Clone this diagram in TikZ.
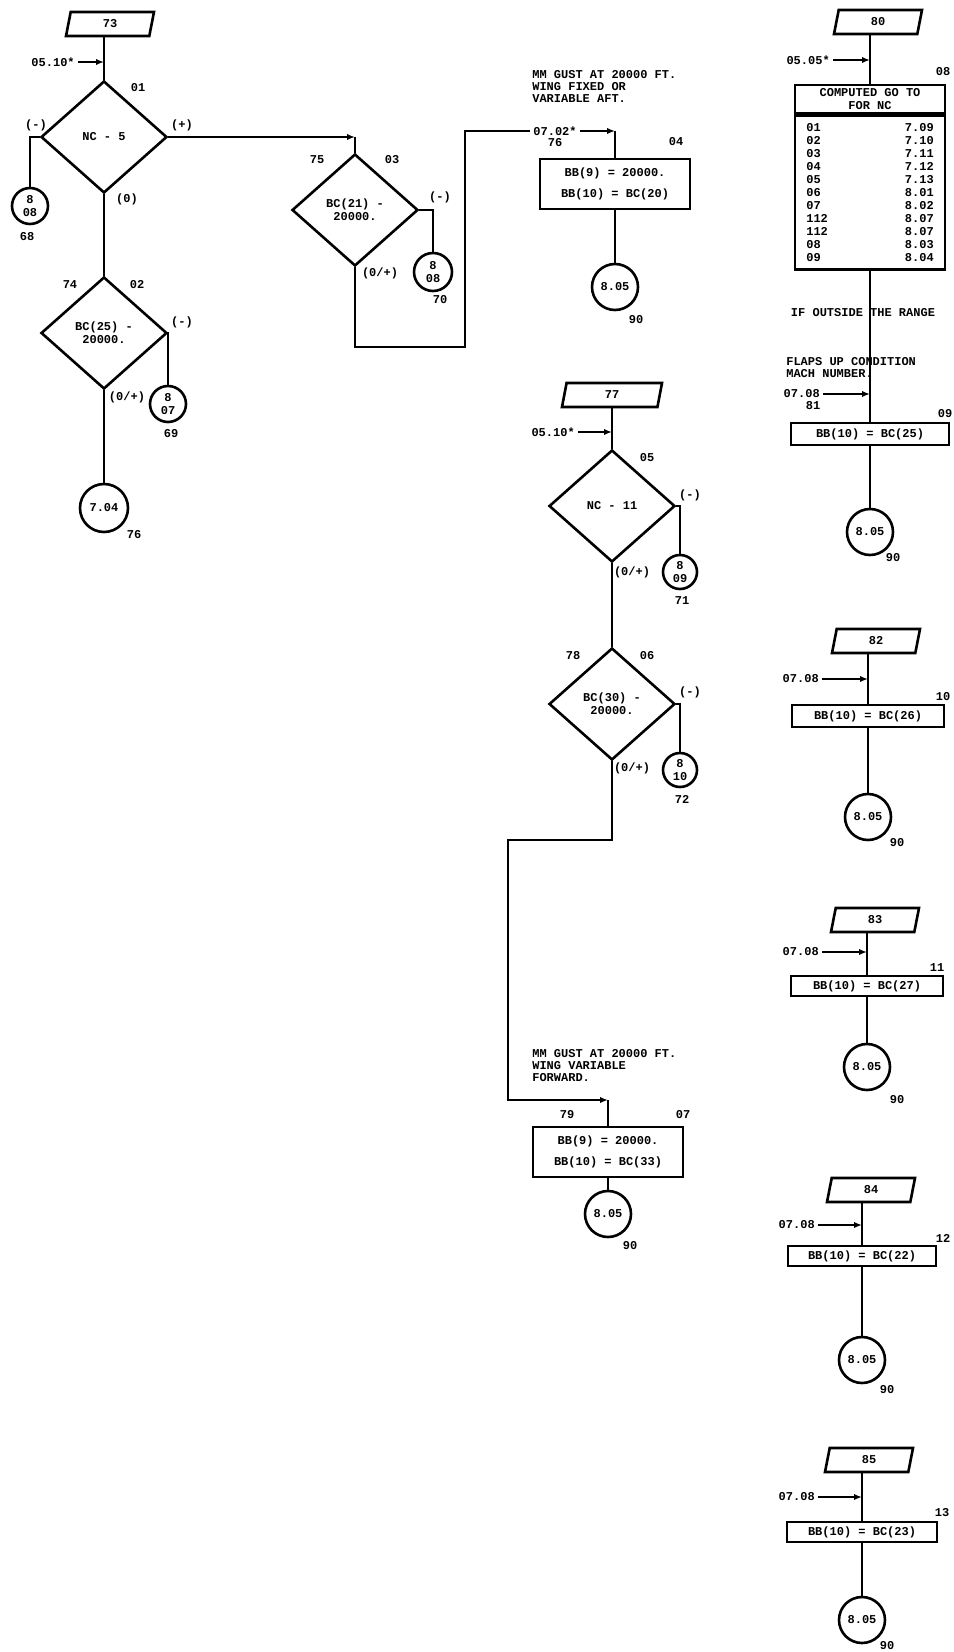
\documentclass[tikz,border=0pt]{standalone}
\usepackage{fontspec}
\setmonofont{Liberation Mono}
\usetikzlibrary{shapes.geometric,arrows.meta}

\begin{document}
\begin{tikzpicture}[x=0.5pt, y=-0.5pt, line width=1.3pt,
  font=\ttfamily\bfseries\fontsize{6}{6.5}\selectfont,
  >={Latex[length=4pt,width=3.2pt]},
  io/.style={draw, trapezium, trapezium left angle=60, trapezium right angle=120,
    trapezium stretches body, minimum width=44pt, minimum height=12pt, inner sep=0pt},
  decide/.style={draw, diamond, minimum width=63pt, minimum height=56pt, inner sep=0pt, align=center},
  conn/.style={draw, circle, minimum size=18pt, inner sep=0pt, align=center},
  proc/.style={draw, rectangle, minimum width=75pt, minimum height=11pt, inner sep=0pt, align=center},
  entry/.style={anchor=east, inner sep=1pt},
  note/.style={anchor=north west, align=left, inner sep=0pt, font=\ttfamily\bfseries\fontsize{6}{6}\selectfont}]
  \useasboundingbox (0,0) rectangle (953,1652);

  % left column: NC - 5
  \node[io] (p73) at (110,24) {73};
  \node[entry] (e73) at (78,62) {05.10*};
  \coordinate (j73) at (104,62);
  \node[decide] (d01) at (104,137) {NC - 5};
  \node[conn] (c68) at (30,206) {8\\08};
  \node[decide] (d02) at (104,333) {BC(25) -\\20000.};
  \node[conn] (c69) at (168,404) {8\\07};
  \node[conn, minimum size=24pt] (c76) at (104,508) {7.04};

  \draw (p73.south -| d01.north) -- (d01.north);
  \draw[->] (e73.east) -- (j73);
  \draw (d01.west) -| (c68.north);
  \draw (d01.south) -- (d02.north);
  \draw (d02.east) -| (c69.north);
  \draw (d02.south) -- (c76.north);

  \node (t01) at (138,88) {01};
  \node (m01) at (36,125) {(-)};
  \node (q01) at (182,125) {(+)};
  \node (z01) at (127,199) {(0)};
  \node (u68) at (27,237) {68};
  \node (t74) at (70,285) {74};
  \node (t02) at (137,285) {02};
  \node (m02) at (182,322) {(-)};
  \node (z02) at (127,397) {(0/+)};
  \node (u69) at (171,434) {69};
  \node (u76) at (134,535) {76};

  % BC(21) branch
  \node[decide] (d03) at (355,210) {BC(21) -\\20000.};
  \coordinate (k03) at (d03.north |- d01.east);
  \draw[->] (d01.east) -- (k03);
  \draw (k03) -- (d03.north);
  \node[conn, minimum size=19pt] (c70) at (433,272) {8\\08};
  \draw (d03.east) -| (c70.north);
  \node (t75) at (317,160) {75};
  \node (t03) at (392,160) {03};
  \node (m03) at (440,197) {(-)};
  \node (z03) at (380,273) {(0/+)};
  \node (u70) at (440,300) {70};

  \coordinate (u03) at (465,347);
  \node[inner sep=1pt] (e76) at (555,131) {07.02*};
  \draw (d03.south) |- (u03) |- (e76.west);
  \node[note] (g04) at (531,69) {MM GUST AT 20000 FT.\\WING FIXED OR\\VARIABLE AFT.};
  \node (t76) at (555,143) {76};
  \node (t04) at (676,142) {04};
  \node[proc, minimum height=25pt] (b04) at (615,184) {BB(9) = 20000.\\[4pt]BB(10) = BC(20)};
  \coordinate (k04) at (b04.north |- e76.east);
  \draw[->] (e76.east) -- (k04);
  \draw (k04) -- (b04.north);
  \node[conn, minimum size=23pt] (c04) at (615,287) {8.05};
  \draw (b04.south) -- (c04.north);
  \node (u04) at (636,320) {90};

  % middle column: NC - 11
  \node[io, minimum width=50pt] (p77) at (612,395) {77};
  \node[entry] (e77) at (578,432) {05.10*};
  \coordinate (j77) at (612,432);
  \node[decide] (d05) at (612,506) {NC - 11};
  \node[conn, minimum size=17pt] (c71) at (680,572) {8\\09};
  \node[decide] (d06) at (612,704) {BC(30) -\\20000.};
  \node[conn, minimum size=17pt] (c72) at (680,770) {8\\10};

  \draw (p77.south -| d05.north) -- (d05.north);
  \draw[->] (e77.east) -- (j77);
  \draw (d05.east) -| (c71.north);
  \draw (d05.south) -- (d06.north);
  \draw (d06.east) -| (c72.north);

  \node (t05) at (647,458) {05};
  \node (m05) at (690,495) {(-)};
  \node (z05) at (632,572) {(0/+)};
  \node (u71) at (682,601) {71};
  \node (t78) at (573,656) {78};
  \node (t06) at (647,656) {06};
  \node (m06) at (690,692) {(-)};
  \node (z06) at (632,768) {(0/+)};
  \node (u72) at (682,799) {72};

  \coordinate (u06) at (508,840);
  \coordinate (u07) at (508,1100);
  \node[proc, minimum height=25pt] (b07) at (608,1152) {BB(9) = 20000.\\[4pt]BB(10) = BC(33)};
  \coordinate (k07) at (b07.north |- u07);
  \draw[->] (d06.south) |- (u06) |- (k07);
  \draw (k07) -- (b07.north);
  \node[note] (g07) at (531,1048) {MM GUST AT 20000 FT.\\WING VARIABLE\\FORWARD.};
  \node (t79) at (567,1115) {79};
  \node (t07) at (683,1115) {07};
  \node[conn, minimum size=23pt] (c07) at (608,1214) {8.05};
  \draw (b07.south) -- (c07.north);
  \node (u07b) at (630,1246) {90};

  % right column: computed go to
  \node[io] (p80) at (878,22) {80};
  \node[entry] (e80) at (833,60) {05.05*};
  \coordinate (j80) at (870,60);
  \node[proc, minimum height=14pt] (h08) at (870,99) {COMPUTED GO TO\\FOR NC};
  \node[proc, minimum height=77pt, anchor=north] (b08) at (h08.south) {};
  \node[anchor=north west, align=left, inner sep=0pt] (tl08) at (805,122)
    {01\\02\\03\\04\\05\\06\\07\\112\\112\\08\\09};
  \node[anchor=north east, align=right, inner sep=0pt] (tr08) at (935,122)
    {7.09\\7.10\\7.11\\7.12\\7.13\\8.01\\8.02\\8.07\\8.07\\8.03\\8.04};
  \node (t08) at (943,72) {08};
  \draw (p80.south -| h08.north) -- (h08.north);
  \draw[->] (e80.east) -- (j80);

  \node[anchor=west] (r08) at (783,313) {IF OUTSIDE THE RANGE};
  \node[note] (f09) at (785,356) {FLAPS UP CONDITION\\MACH NUMBER.};
  \node[entry] (e81) at (823,394) {07.08};
  \coordinate (j81) at (870,394);
  \node (t81) at (813,406) {81};
  \node (t09) at (945,414) {09};
  \node[proc, minimum width=79pt] (b09) at (870,434) {BB(10) = BC(25)};
  \node[conn, minimum size=23pt] (c09) at (870,532) {8.05};
  \node (u09) at (893,558) {90};
  \draw (b08.south) -- (b09.north);
  \draw[->] (e81.east) -- (j81);
  \draw (b09.south) -- (c09.north);

  % right column: 82
  \node[io] (p82) at (876,641) {82};
  \node[entry] (e82) at (822,679) {07.08};
  \coordinate (j82) at (868,679);
  \node (t10) at (943,697) {10};
  \node[proc, minimum width=76pt] (b10) at (868,716) {BB(10) = BC(26)};
  \node[conn, minimum size=23pt] (c10) at (868,817) {8.05};
  \node (u10) at (897,843) {90};
  \draw (p82.south -| b10.north) -- (b10.north);
  \draw[->] (e82.east) -- (j82);
  \draw (b10.south) -- (c10.north);

  % right column: 83
  \node[io] (p83) at (875,920) {83};
  \node[entry] (e83) at (822,952) {07.08};
  \coordinate (j83) at (867,952);
  \node (t11) at (937,968) {11};
  \node[proc, minimum width=76pt, minimum height=10pt] (b11) at (867,986) {BB(10) = BC(27)};
  \node[conn, minimum size=23pt] (c11) at (867,1067) {8.05};
  \node (u11) at (897,1100) {90};
  \draw (p83.south -| b11.north) -- (b11.north);
  \draw[->] (e83.east) -- (j83);
  \draw (b11.south) -- (c11.north);

  % right column: 84
  \node[io] (p84) at (871,1190) {84};
  \node[entry] (e84) at (818,1225) {07.08};
  \coordinate (j84) at (862,1225);
  \node (t12) at (943,1238) {12};
  \node[proc, minimum width=74pt, minimum height=10pt] (b12) at (862,1256) {BB(10) = BC(22)};
  \node[conn, minimum size=23pt] (c12) at (862,1360) {8.05};
  \node (u12) at (887,1390) {90};
  \draw (p84.south -| b12.north) -- (b12.north);
  \draw[->] (e84.east) -- (j84);
  \draw (b12.south) -- (c12.north);

  % right column: 85
  \node[io] (p85) at (869,1460) {85};
  \node[entry] (e85) at (818,1497) {07.08};
  \coordinate (j85) at (862,1497);
  \node (t13) at (942,1513) {13};
  \node[proc, minimum width=75pt, minimum height=10pt] (b13) at (862,1532) {BB(10) = BC(23)};
  \node[conn, minimum size=23pt] (c13) at (862,1620) {8.05};
  \node (u13) at (887,1646) {90};
  \draw (p85.south -| b13.north) -- (b13.north);
  \draw[->] (e85.east) -- (j85);
  \draw (b13.south) -- (c13.north);
\end{tikzpicture}
\end{document}
